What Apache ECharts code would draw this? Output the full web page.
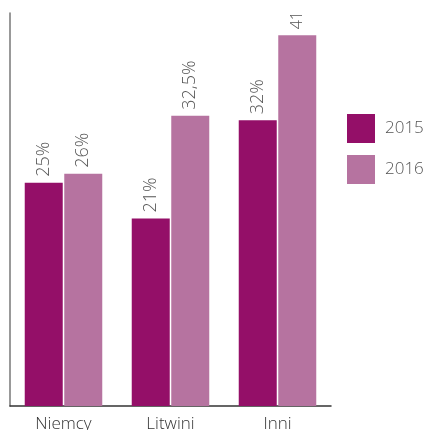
<!DOCTYPE html>
<html><head><meta charset="utf-8">
<script src="https://cdn.jsdelivr.net/npm/echarts@6/dist/echarts.min.js"></script>
<style>html,body{margin:0;padding:0;background:#fff}#c{width:424px;height:430px}</style>
</head><body><div id="c"></div>
<script>
const categories = ['Niemcy', 'Litwini', 'Inni'];
const seriesNames = ['2015', '2016'];
const values2015 = [25, 21, 32];
const values2016 = [26, 32.5, 41.5];
const labels2015 = ['25%', '21%', '32%'];
const labels2016 = ['26%', '32,5%', '41'];
const colors = ['#940f68', '#b673a0'];
const font = '"Open Sans", sans-serif';

function mkSeries(name, vals, labs, color) {
  return {
    name: name, type: 'bar', barWidth: 38, barGap: '4%',
    data: vals.map((v, i) => ({
      value: v,
      label: labs[i].indexOf('%') < 0 ? { fontSize: 16 } : undefined
    })),
    itemStyle: { color: color },
    label: {
      show: true, position: 'top', rotate: 90, align: 'left', verticalAlign: 'middle',
      distance: 6, color: '#555', fontSize: 18, fontFamily: font, fontWeight: 300,
      formatter: p => labs[p.dataIndex]
    }
  };
}
const chart = echarts.init(document.getElementById('c'));
chart.setOption({
  animation: false,
  grid: { left: 10, top: 13, width: 321, height: 393, containLabel: false, outerBoundsMode: 'none' },
  legend: {
    orient: 'vertical', left: 342, top: 109, itemWidth: 28, itemHeight: 29, itemGap: 12,
    icon: 'rect',
    textStyle: { fontSize: 17, color: '#555', fontFamily: font, fontWeight: 300, padding: [0, 0, 0, 5] },
    data: seriesNames
  },
  xAxis: {
    type: 'category', data: categories,
    axisLine: { lineStyle: { color: '#333', width: 1.5 } },
    axisTick: { show: false },
    axisLabel: { fontSize: 17, color: '#333', fontFamily: font, fontWeight: 300, margin: 10 }
  },
  yAxis: {
    type: 'value', min: 0, max: 44,
    axisLine: { show: true, lineStyle: { color: '#777', width: 1.5 } },
    axisTick: { show: false }, axisLabel: { show: false }, splitLine: { show: false }
  },
  series: [
    mkSeries(seriesNames[0], values2015, labels2015, colors[0]),
    mkSeries(seriesNames[1], values2016, labels2016, colors[1])
  ]
});
</script></body></html>
